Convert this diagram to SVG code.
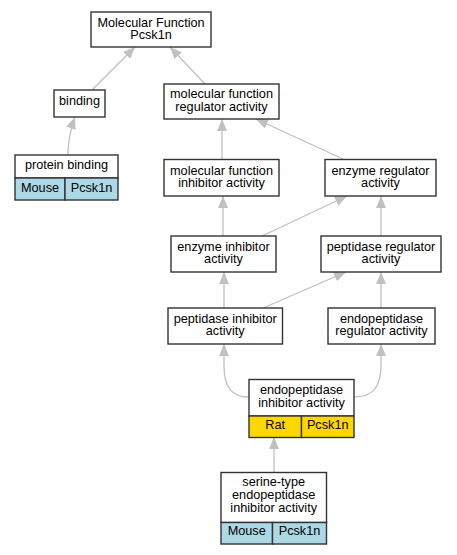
<svg xmlns="http://www.w3.org/2000/svg" width="457" height="555" viewBox="0 0 457 555">
<style>
.b{fill:#fff;stroke:#333;stroke-width:1.4}
.m{fill:#add8e6;stroke:#333;stroke-width:1.4}
.r{fill:#ffd700;stroke:#333;stroke-width:1.4}
text{font-family:"Liberation Sans",Arial,sans-serif;font-size:12.7px;fill:#000;text-anchor:middle}
.e path{fill:none;stroke:#c0c0c0;stroke-width:1.3;marker-end:url(#a)}
</style>
<defs>
<marker id="a" viewBox="0 0 12 10" refX="12" refY="5" markerWidth="12" markerHeight="10" markerUnits="userSpaceOnUse" orient="auto">
<path d="M0,0 L12,5 L0,10 z" fill="#c0c0c0"/>
</marker>
</defs>
<rect width="457" height="555" fill="#fff"/>
<g class="e" id="edges">
<path d="M92,90 L135,47"/>
<path d="M205,84 L170,47"/>
<path d="M68,155 C68,140 71,128 75,117"/>
<path d="M222,159 L222,119"/>
<path d="M343,159 L256,119"/>
<path d="M223,236 L223,196"/>
<path d="M262,236 L347,196"/>
<path d="M381,236 L381,196"/>
<path d="M224,308 L224,272"/>
<path d="M263,308 L346,272"/>
<path d="M381,308 L381,272"/>
<path d="M249,397 C232,397 224,388 224,365 L224,344"/>
<path d="M354,397 C372,397 381,388 381,365 L381,344"/>
<path d="M274,472 L274,437"/>
</g>
<g id="n_mf">
<rect class="b" x="91" y="12" width="120" height="35"/>
<text x="151" y="26.5">Molecular Function</text>
<text x="151" y="39">Pcsk1n</text>
</g>
<g id="n_binding">
<rect class="b" x="54" y="90" width="51" height="27"/>
<text x="79.5" y="105">binding</text>
</g>
<g id="n_protein_binding">
<rect class="b" x="15" y="155" width="103" height="23"/>
<text x="66.5" y="169">protein binding</text>
<rect class="m" x="15" y="178" width="50" height="22"/>
<rect class="m" x="65" y="178" width="53" height="22"/>
<text x="40" y="191.5">Mouse</text>
<text x="91.5" y="191.5">Pcsk1n</text>
</g>
<g id="n_mfr">
<rect class="b" x="164" y="84" width="115" height="35"/>
<text x="221.5" y="98.3">molecular function</text>
<text x="221.5" y="110.8">regulator activity</text>
</g>
<g id="n_mfi">
<rect class="b" x="164" y="159.5" width="115" height="36.5"/>
<text x="221.5" y="174.5">molecular function</text>
<text x="221.5" y="187">inhibitor activity</text>
</g>
<g id="n_er">
<rect class="b" x="325" y="159.5" width="111" height="36.5"/>
<text x="380.5" y="174.5">enzyme regulator</text>
<text x="380.5" y="187">activity</text>
</g>
<g id="n_ei">
<rect class="b" x="171" y="236" width="105" height="36"/>
<text x="223.5" y="250.8">enzyme inhibitor</text>
<text x="223.5" y="263.3">activity</text>
</g>
<g id="n_pr">
<rect class="b" x="321" y="236" width="120" height="36"/>
<text x="381" y="250.8">peptidase regulator</text>
<text x="381" y="263.3">activity</text>
</g>
<g id="n_pi">
<rect class="b" x="168" y="308" width="114.5" height="36"/>
<text x="225.2" y="322.8">peptidase inhibitor</text>
<text x="225.2" y="335.3">activity</text>
</g>
<g id="n_epr">
<rect class="b" x="328" y="308" width="107" height="36"/>
<text x="381.5" y="322.8">endopeptidase</text>
<text x="381.5" y="335.3">regulator activity</text>
</g>
<g id="n_epi">
<rect class="b" x="249" y="379.5" width="105" height="36.5"/>
<text x="301.5" y="394">endopeptidase</text>
<text x="301.5" y="406.5">inhibitor activity</text>
<rect class="r" x="249" y="416" width="52.5" height="21.5"/>
<rect class="r" x="301.5" y="416" width="52.5" height="21.5"/>
<text x="275.2" y="428.5">Rat</text>
<text x="327.7" y="428.5">Pcsk1n</text>
</g>
<g id="n_serine">
<rect class="b" x="221" y="472.5" width="105.5" height="50"/>
<text x="273.7" y="486">serine-type</text>
<text x="273.7" y="498.8">endopeptidase</text>
<text x="273.7" y="511.6">inhibitor activity</text>
<rect class="m" x="221" y="522.5" width="51.5" height="21.5"/>
<rect class="m" x="272.5" y="522.5" width="54" height="21.5"/>
<text x="246.7" y="535">Mouse</text>
<text x="299.5" y="535">Pcsk1n</text>
</g>
</svg>
